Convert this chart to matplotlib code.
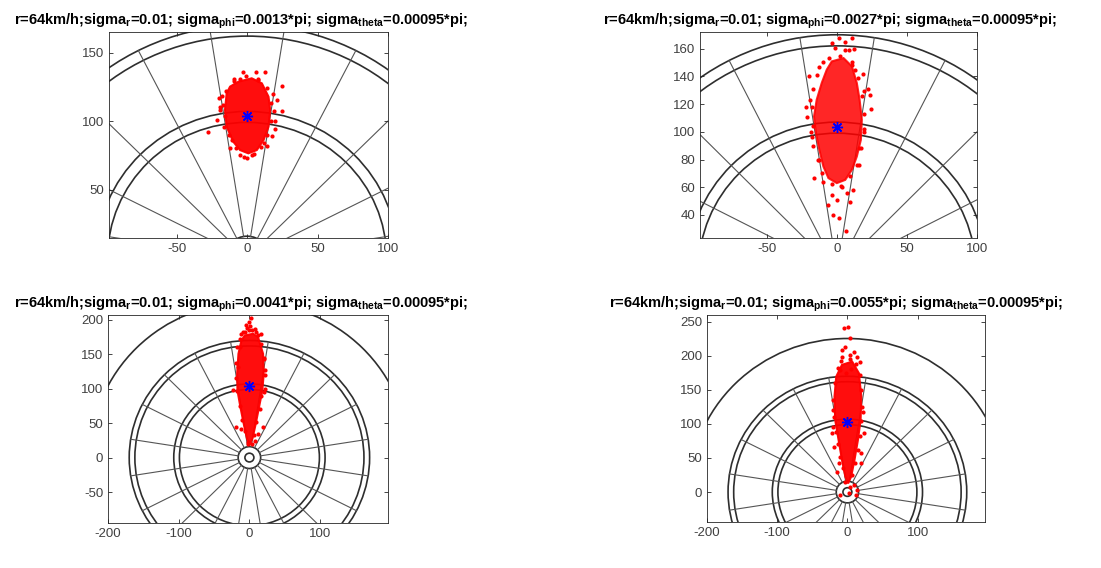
import numpy as np
import matplotlib.pyplot as plt
from matplotlib.patches import Circle, Polygon

plt.rcParams['font.family'] = ['Liberation Sans', 'DejaVu Sans']
plt.rcParams['mathtext.fontset'] = 'custom'
plt.rcParams['mathtext.rm'] = 'Liberation Sans:bold'
plt.rcParams['mathtext.bf'] = 'Liberation Sans:bold'
plt.rcParams['mathtext.default'] = 'bf'
plt.rcParams['axes.unicode_minus'] = False

# dartboard geometry (mm)
ring_radii = [6.35, 15.9, 99, 107, 162, 170, 225.5]
wire_inner, wire_outer = 15.9, 170
wire_angles = [9 + 18 * k for k in range(20)]

# aim point
target_x, target_y = 0, 103.5

sigma_phi = ['0.0013', '0.0027', '0.0041', '0.0055']

# dense part of each hit cloud (outline)
core1_x = [-6.2, 3.3, 10.5, 15.2, 16.4, 15.2, 11.7, 6.9, 0.9, -5.0, -9.8, -14.5, -15.7, -14.5, -12.1]
core1_y = [128.7, 131.2, 127.5, 117.8, 108.0, 95.8, 86.1, 78.8, 76.4, 78.8, 84.9, 95.8, 108.0, 120.2, 125.1]
core2_x = [-3.8, 4.6, 10.6, 14.1, 16.1, 17.7, 17.0, 14.1, 10.6, 5.8, -0.2, -6.2, -9.8, -12.7, -15.1, -16.5, -14.6, -11.0, -7.4]
core2_y = [150.8, 153.2, 147.2, 135.2, 123.1, 108.7, 94.2, 82.2, 72.6, 65.3, 63.0, 66.6, 75.0, 87.0, 99.0, 111.0, 123.1, 135.2, 144.8]
core3_x = [-6.6, 5.2, 12.2, 19.3, 20.2, 18.3, 13.6, 8.9, 4.2, 0.5, -3.3, -8.0, -12.7, -16.9, -17.4, -15.5, -11.3]
core3_y = [177.3, 179.8, 174.9, 150.7, 121.7, 97.4, 73.1, 48.9, 27.1, 18.9, 27.1, 48.9, 73.1, 97.4, 121.7, 150.7, 170.0]
core4_x = [-7.7, 6.8, 16.4, 19.8, 18.8, 15.0, 10.1, 5.3, 1.0, -2.9, -7.7, -12.6, -17.4, -18.4, -15.9]
core4_y = [186.8, 191.6, 174.5, 140.2, 105.9, 76.5, 47.1, 22.5, 12.7, 22.5, 47.1, 76.5, 105.9, 140.2, 169.6]

# scattered hits outside and along the edge of the dense part
pts1_x = [-2.6, 12.4, 24.8, -27.6, -21.2, 24.8, 19.5, -5.2, 3.8, -18.0, 18.5, -16.5, 20.0, -19.0, 8.0, -9.0, 14.0, -12.0, 17.5, 0.0,
          -17.0, -16.0, -13.0, -8.0, -2.0, 5.0, 10.0, 14.0, 17.0, 17.0, 14.0, 8.0, -1.0, -9.0, -15.0, -19.0, 19.0, -11.0, 12.0, 21.0,
          -20.0, 6.0, -5.0]
pts1_y = [135.5, 135.5, 125.5, 91.7, 100.7, 107.5, 94.2, 75.2, 75.2, 118.0, 120.0, 96.0, 100.0, 110.0, 130.0, 131.0, 82.0, 80.0, 89.0, 73.0,
          112.0, 104.0, 90.0, 80.0, 74.0, 76.0, 81.0, 90.0, 100.0, 113.0, 124.0, 131.0, 133.0, 129.0, 122.0, 108.0, 107.0, 86.0, 84.0, 115.0,
          117.0, 136.0, 131.0]
pts2_x = [1.0, 11.0, -1.4, 5.8, 8.2, -10.3, 10.6, -14.6, 12.9, 18.2, 23.7, 24.2, -21.4, -18.2, -16.5, -9.8, -3.8, 8.9, -6.2, -3.1,
          1.0, 6.5, 18.9, -19.4, 15.3, 11.7, 3.4, 7.0, -0.2, -17.0, 19.5, -13.0, 16.0,
          -13.0, -17.0, -18.0, -19.0, -17.0, -14.0, -11.0, -4.0, 3.0, 9.0, 14.0, 17.0, 19.0, 19.0, 18.0, 15.0, 11.0, 2.0, -6.0,
          -20.0, 22.0, -22.0, 6.0, -4.0, 12.0]
pts2_y = [167.6, 167.6, 160.4, 159.2, 159.2, 150.0, 150.0, 141.2, 144.8, 141.9, 126.7, 116.4, 110.6, 96.6, 67.0, 64.1, 54.5, 49.7, 47.3, 40.1,
          37.7, 28.5, 129.1, 123.1, 76.2, 58.1, 60.5, 55.7, 50.9, 104.0, 102.0, 80.0, 88.0,
          147.0, 131.0, 118.0, 100.0, 90.0, 80.0, 70.0, 62.0, 61.0, 68.0, 76.0, 88.0, 100.0, 113.0, 126.0, 139.0, 148.0, 155.0, 153.0,
          140.0, 131.0, 118.0, 165.0, 164.0, 160.0]
pts3_x = [-1.0, -6.6, 3.8, -11.3, 9.9, 16.9, -18.3, -12.2, 20.7, 22.5, 16.9, 22.5, 7.5, -1.9, 12.2, -15.9, -13.7, 19.3, -23.0, 1.5, -4.0,
          -18.0, -19.0, -19.0, -18.0, -14.0, -10.0, -6.0, -2.0, 3.0, 6.0, 10.0, 15.0, 20.0, 22.0, 21.0, 16.0, 12.0, 8.0, -9.0, -14.0,
          2.0, -5.0, 0.0]
pts3_y = [196.7, 182.1, 184.6, 179.8, 182.1, 179.8, 44.0, 41.7, 143.4, 126.5, 90.1, 99.8, 24.7, 19.9, 34.4, 131.3, 160.3, 44.0, 97.4, 191.0, 188.0,
          160.0, 138.0, 115.0, 96.0, 75.0, 55.0, 38.0, 22.0, 20.0, 33.0, 52.0, 70.0, 95.0, 120.0, 145.0, 165.0, 178.0, 186.0, 183.0, 172.0,
          202.0, 193.0, 185.0]
pts4_x = [-5.3, 0.5, 3.4, -2.9, 9.2, -7.7, 4.3, 14.0, -10.1, 17.9, -22.2, -19.8, 23.7, 18.8, 19.8, -12.6, -15.0, 9.2, 14.0, -10.1,
          1.9, 11.6, -20.7, -7.7,
          -14.0, -18.0, -20.0, -19.0, -16.0, -14.0, -10.0, -6.0, -3.0, 3.0, 6.0, 11.0, 15.0, 18.0, 20.0, 21.0, 20.0, 18.0, 12.0, 3.0,
          -9.0, -2.0, 5.0, -21.0, 22.0]
pts4_y = [240.7, 243.1, 226.9, 213.7, 206.3, 208.8, 201.5, 199.0, 179.4, 191.6, 86.3, 66.6, 86.3, 56.9, 42.2, 42.2, 29.9, 10.3, 2.9, -4.4,
          -2.0, -4.4, 96.0, 199.0,
          182.0, 160.0, 135.0, 110.0, 88.0, 70.0, 52.0, 35.0, 15.0, 8.0, 25.0, 42.0, 62.0, 82.0, 105.0, 125.0, 150.0, 172.0, 188.0, 196.0,
          193.0, 175.0, 180.0, 120.0, 118.0]

cores = [(core1_x, core1_y), (core2_x, core2_y), (core3_x, core3_y), (core4_x, core4_y)]
points = [(pts1_x, pts1_y), (pts2_x, pts2_y), (pts3_x, pts3_y), (pts4_x, pts4_y)]

xlims = [(-98, 100), (-98, 100), (-200, 196), (-200, 196)]
ylims = [(14.6, 165), (23.4, 172), (-95, 207), (-44, 260)]
xticks = [[-50, 0, 50, 100], [-50, 0, 50, 100], [-200, -100, 0, 100], [-200, -100, 0, 100]]
yticks = [[50, 100, 150], [40, 60, 80, 100, 120, 140, 160], [-50, 0, 50, 100, 150, 200], [0, 50, 100, 150, 200, 250]]

# axes boxes in pixels: left, right, top, bottom
W, H = 1101, 568
boxes = [(109, 388, 32, 238), (700, 977, 32, 238), (108, 388, 315, 523), (707, 985, 315, 522)]
title_x = [0.473, 0.469, 0.475, 0.464]

fig = plt.figure(figsize=(W / 100, H / 100), dpi=100)

for i in range(4):
    l, r, t, b = boxes[i]
    ax = fig.add_axes([l / W, 1 - b / H, (r - l) / W, (b - t) / H])

    for rad in ring_radii:
        ax.add_patch(Circle((0, 0), rad, fill=False, edgecolor='#2e2e2e', linewidth=1.2, zorder=1))
    for a in wire_angles:
        c, s = np.cos(np.radians(a)), np.sin(np.radians(a))
        ax.plot([wire_inner * c, wire_outer * c], [wire_inner * s, wire_outer * s],
                color='#555555', linewidth=0.8, zorder=1)

    cx, cy = cores[i]
    ax.add_patch(Polygon(np.column_stack([cx, cy]), closed=True, facecolor='red',
                         edgecolor='red', linewidth=1.5, alpha=0.95 if i != 1 else 0.85, zorder=2))
    px, py = points[i]
    ax.plot(px, py, 'o', color='red', markersize=3.0, markeredgewidth=0, zorder=3)
    ax.plot(target_x, target_y, marker=(8, 2, 0), color='blue', markersize=8, markeredgewidth=1.0, zorder=4)

    ax.set_xlim(xlims[i])
    ax.set_ylim(ylims[i])
    ax.set_xticks(xticks[i])
    ax.set_yticks(yticks[i])
    ax.tick_params(direction='in', top=True, right=True, length=3, width=0.6,
                   labelsize=9.5, labelcolor='#404040', color='#262626')
    for sp in ax.spines.values():
        sp.set_linewidth(0.6)
        sp.set_color('#262626')

    ax.set_title(r'r=64km/h;sigma$_r$=0.01; sigma$_{phi}$=' + sigma_phi[i]
                 + r'*pi; sigma$_{theta}$=0.00095*pi;', fontsize=10.5, fontweight='bold',
                 pad=5, x=title_x[i])

fig.savefig('out.png', dpi=100)
